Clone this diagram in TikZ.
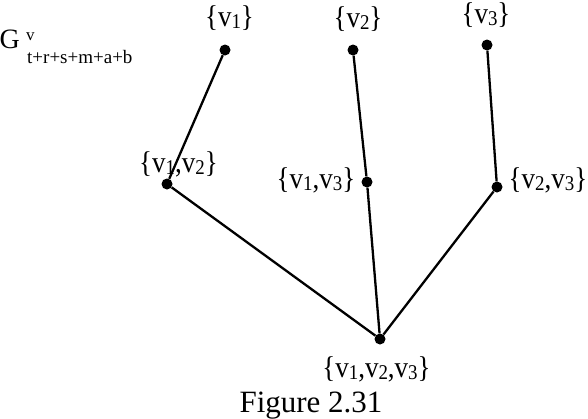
\documentclass[tikz,border=0pt]{standalone}
\usepackage{fontspec}
\setmainfont{Liberation Serif}
\newcommand\lowsub[1]{\raisebox{-0.15ex}{\fontsize{21}{21}\selectfont #1}}
\newcommand\lbltext[1]{\scalebox{0.9}[1]{#1}}
\begin{document}
\begin{tikzpicture}[x=1pt,y=-1pt,
  dot/.style={circle,fill=black,inner sep=0pt,minimum size=11pt},
  lbl/.style={inner sep=0pt,anchor=base,font=\fontsize{30}{30}\selectfont},
  edge/.style={line width=2.3pt}]
\useasboundingbox (0,0) rectangle (588,418);
\node[dot] (a) at (225,50) {};
\node[dot] (b) at (353,50) {};
\node[dot] (c) at (487,45) {};
\node[dot] (ab) at (167,184) {};
\node[dot] (ac) at (367,182) {};
\node[dot] (bc) at (497,187) {};
\node[dot] (abc) at (380,339) {};
\draw[edge] (a) -- (ab) -- (abc) -- (bc) -- (c);
\draw[edge] (b) -- (ac) -- (abc);
\node[lbl] (la) at (229.5,26) {\lbltext{\{v\lowsub{1}\}}};
\node[lbl] (lb) at (358,27) {\lbltext{\{v\lowsub{2}\}}};
\node[lbl] (lc) at (486,23) {\lbltext{\{v\lowsub{3}\}}};
\node[lbl] (lab) at (178.5,172) {\lbltext{\{v\lowsub{1},v\lowsub{2}\}}};
\node[lbl] (lac) at (316,188) {\lbltext{\{v\lowsub{1},v\lowsub{3}\}}};
\node[lbl] (lbc) at (548,188) {\lbltext{\{v\lowsub{2},v\lowsub{3}\}}};
\node[lbl] (labc) at (376.5,377) {\lbltext{\{v\lowsub{1},v\lowsub{2},v\lowsub{3}\}}};
\node[lbl,anchor=base west,font=\fontsize{28}{28}\selectfont] (g) at (-0.5,48) {G};
\node[lbl,anchor=base west,font=\fontsize{17}{17}\selectfont] (gsup) at (26,40) {v};
\node[lbl,anchor=base west,font=\fontsize{19}{19}\selectfont] (gsub) at (27,63) {t+r+s+m+a+b};
\node[lbl,font=\fontsize{31}{31}\selectfont] (fig) at (311,412) {Figure 2.31};
\end{tikzpicture}
\end{document}
